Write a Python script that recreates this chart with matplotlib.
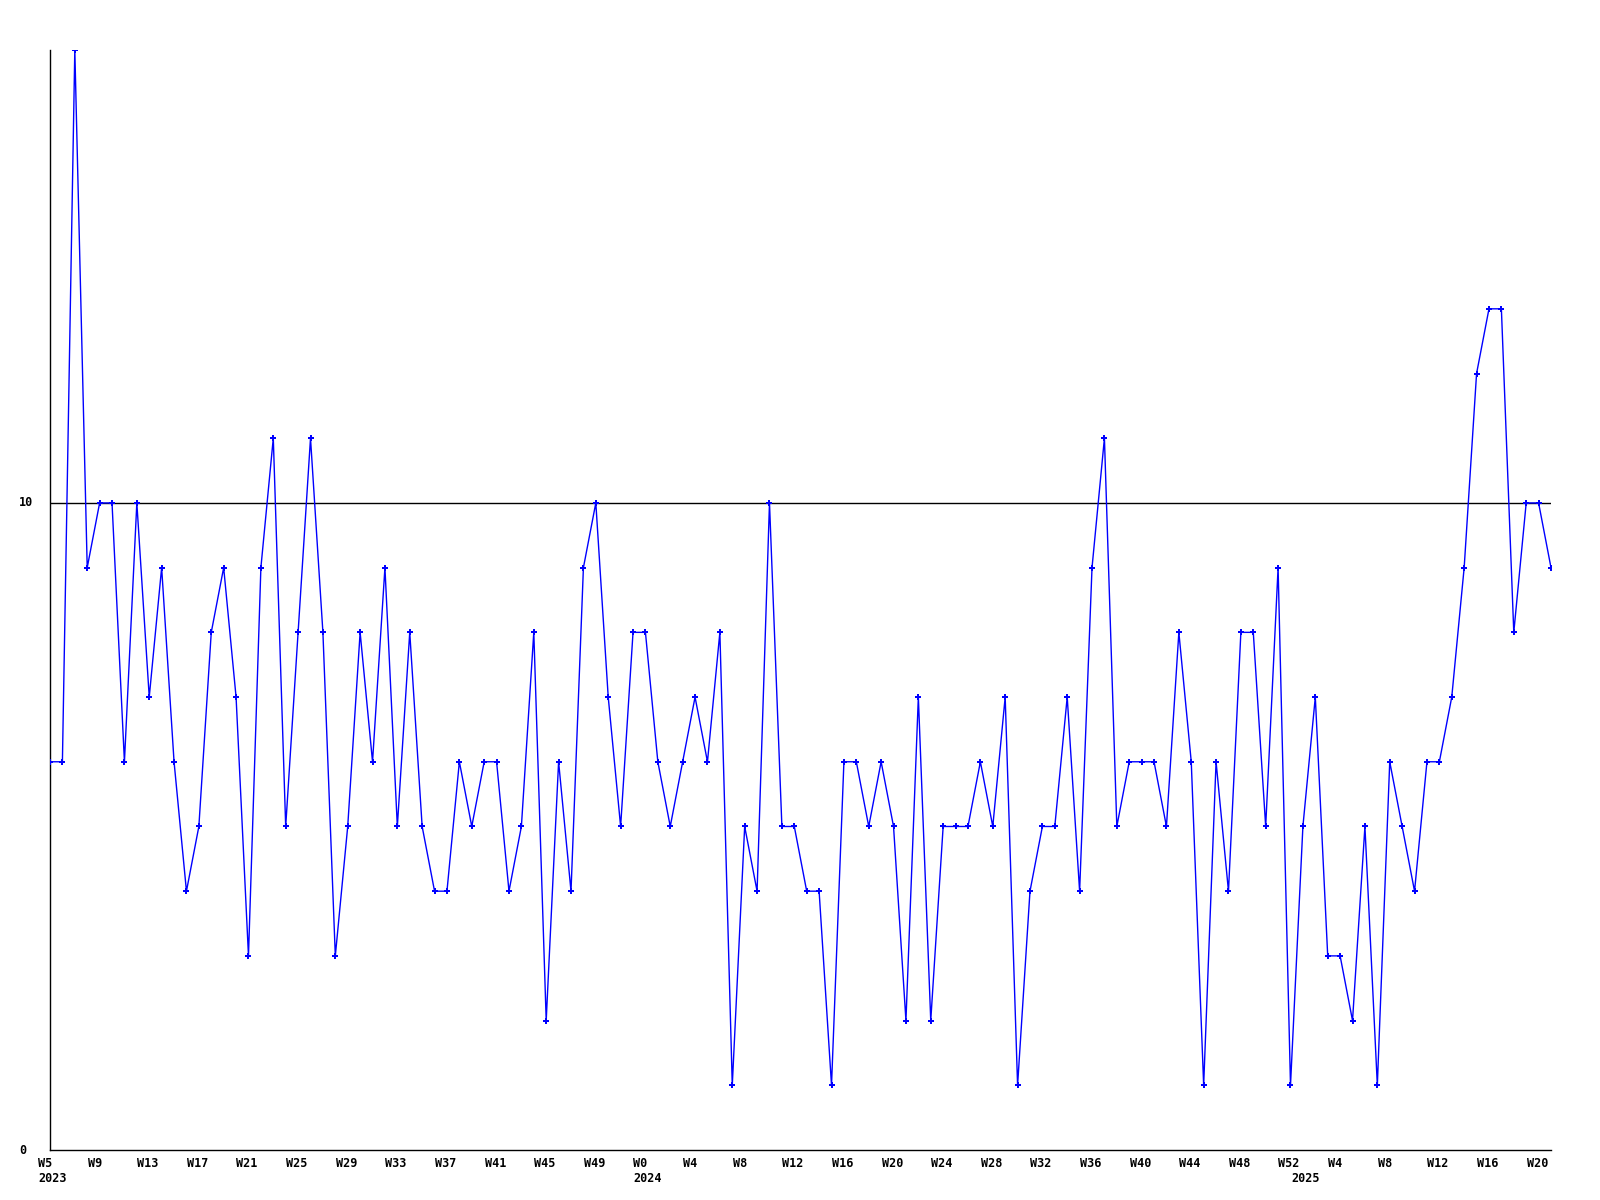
import numpy as np
import matplotlib
matplotlib.use("Agg")
import matplotlib.pyplot as plt

# weekly values, 2023 W5 .. 2025 W21 (last one sits on the right edge)
values = [
    6, 6, 17, 9, 10, 10, 6, 10, 7, 9, 6, 4, 5, 8, 9, 7, 3, 9, 11, 5,
    8, 11, 8, 3, 5, 8, 6, 9, 5, 8, 5, 4, 4, 6, 5, 6, 6, 4, 5, 8,
    2, 6, 4, 9, 10, 7, 5, 8, 8, 6, 5, 6, 7, 6, 8, 1, 5, 4, 10, 5,
    5, 4, 4, 1, 6, 6, 5, 6, 5, 2, 7, 2, 5, 5, 5, 6, 5, 7, 1, 4,
    5, 5, 7, 4, 9, 11, 5, 6, 6, 6, 5, 8, 6, 1, 6, 4, 8, 8, 5, 9,
    1, 5, 7, 3, 3, 2, 5, 1, 6, 5, 4, 6, 6, 7, 9, 12, 13, 13, 8, 10,
    10, 9,
]

week_pos = [0, 4, 8, 12, 16, 20, 24, 28, 32, 36, 40, 44,
            48, 52, 56, 60, 64, 68, 72, 76, 80, 84, 88, 92, 96, 100,
            104, 108, 112, 116, 120]
week_labels = ["W5", "W9", "W13", "W17", "W21", "W25", "W29", "W33", "W37",
               "W41", "W45", "W49",
               "W0", "W4", "W8", "W12", "W16", "W20", "W24", "W28", "W32",
               "W36", "W40", "W44", "W48", "W52",
               "W4", "W8", "W12", "W16", "W20"]
year_pos = [0, 48, 101]
year_labels = ["2023", "2024", "2025"]

y_ticks = [0, 10]

x = np.arange(len(values))

fig = plt.figure(figsize=(16, 12), dpi=100)
ax = fig.add_axes([50 / 1600, 50 / 1200, 1501 / 1600, 1100 / 1200])

ax.axhline(10, color="black", linewidth=1.0, zorder=1)
ax.plot(x, values, color="#0000ff", linewidth=1.0, marker="P", markersize=5,
        markeredgewidth=0, zorder=3)

ax.set_xlim(0, len(values) - 1)
ax.set_ylim(0, 17)

for s in ["top", "right"]:
    ax.spines[s].set_visible(False)
for s in ["left", "bottom"]:
    ax.spines[s].set_color("black")
    ax.spines[s].set_linewidth(1.0)

ax.set_xticks([])
ax.set_yticks([])

font = dict(family="DejaVu Sans Mono", fontweight="bold", fontsize=8.5)

for p, lab in zip(week_pos, week_labels):
    ax.annotate(lab, xy=(p, 0), xycoords=("data", "axes fraction"),
                xytext=(-12, -7), textcoords="offset pixels",
                ha="left", va="top", **font)
for p, lab in zip(year_pos, year_labels):
    ax.annotate(lab, xy=(p, 0), xycoords=("data", "axes fraction"),
                xytext=(-12, -22), textcoords="offset pixels",
                ha="left", va="top", **font)
for v in y_ticks:
    ax.annotate(str(v), xy=(0, v), xycoords=("axes fraction", "data"),
                xytext=(-31, 0), textcoords="offset pixels",
                ha="left", va="center", **font)

fig.savefig("out.png", dpi=100)
